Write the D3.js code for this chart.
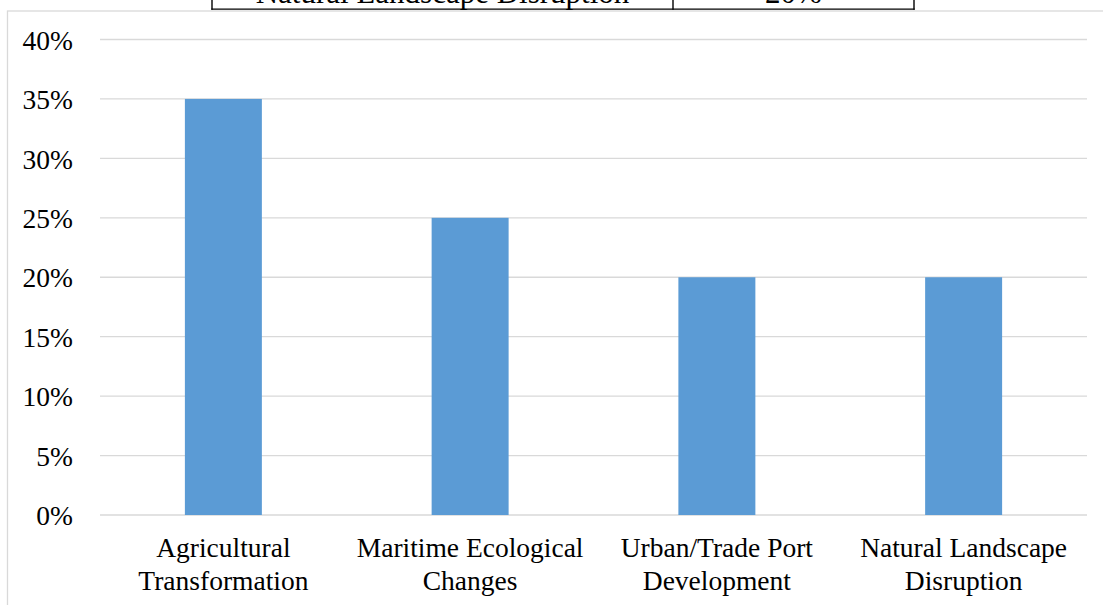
<!DOCTYPE html>
<html>
<head>
<meta charset="utf-8">
<script src="https://cdn.jsdelivr.net/npm/d3@7"></script>
<style>
  html, body { margin: 0; padding: 0; background: #ffffff; overflow: hidden; }
  svg { display: block; }
  text { font-family: "Liberation Serif", "Times New Roman", serif; fill: #000; }
</style>
</head>
<body>
<svg id="chart" width="1103" height="605"></svg>
<script>
// Chart data
const categories = [
  ["Agricultural", "Transformation"],
  ["Maritime Ecological", "Changes"],
  ["Urban/Trade Port", "Development"],
  ["Natural Landscape", "Disruption"]
];
const values = [0.35, 0.25, 0.20, 0.20];
const yTicks = [0, 0.05, 0.10, 0.15, 0.20, 0.25, 0.30, 0.35, 0.40];

// Last row of the table sitting just above the chart
const tableRow = ["Natural Landscape Disruption", "20%"];

const svg = d3.select("#chart");
const W = 1103, H = 605;

// Table row fragment (cut by the top edge)
const tableX = d3.scaleOrdinal().domain([0, 1, 2]).range([212, 673, 914]);
const tableG = svg.append("g");
tableG.selectAll("text.cell")
  .data(tableRow)
  .join("text")
  .attr("class", "cell")
  .attr("x", (d, i) => (tableX(i) + tableX(i + 1)) / 2)
  .attr("y", 3)
  .attr("text-anchor", "middle")
  .style("font-size", "31px")
  .text(d => d);
tableG.selectAll("line.v")
  .data([0, 1, 2])
  .join("line")
  .attr("class", "v")
  .attr("x1", d => tableX(d)).attr("x2", d => tableX(d))
  .attr("y1", -2).attr("y2", 9.8)
  .attr("stroke", "#000").attr("stroke-width", 1.4);
tableG.append("line")
  .attr("x1", tableX(0) - 0.7).attr("x2", tableX(2) + 0.7)
  .attr("y1", 9.1).attr("y2", 9.1)
  .attr("stroke", "#000").attr("stroke-width", 1.4);

// Chart area border
svg.append("rect")
  .attr("x", 7.5).attr("y", 11)
  .attr("width", W + 20).attr("height", H + 20)
  .attr("fill", "none")
  .attr("stroke", "#d9d9d9")
  .attr("stroke-width", 1.3);

// Scales
const x = d3.scaleBand()
  .domain(d3.range(categories.length))
  .range([100, 1087])
  .paddingInner(0.688)
  .paddingOuter(0.344);

const y = d3.scaleLinear()
  .domain([0, 0.40])
  .range([515, 39.5]);

// Gridlines
svg.append("g")
  .selectAll("line")
  .data(yTicks)
  .join("line")
  .attr("x1", 100).attr("x2", 1087)
  .attr("y1", d => y(d)).attr("y2", d => y(d))
  .attr("stroke", "#d9d9d9")
  .attr("stroke-width", 1.3);

// Bars
svg.append("g")
  .selectAll("rect")
  .data(values)
  .join("rect")
  .attr("x", (d, i) => x(i))
  .attr("y", d => y(d))
  .attr("width", x.bandwidth())
  .attr("height", d => y(0) - y(d))
  .attr("fill", "#5b9bd5");

// Y axis labels
const yAxis = d3.axisLeft(y)
  .tickValues(yTicks)
  .tickFormat(d3.format(".0%"))
  .tickSize(0)
  .tickPadding(0);
const yg = svg.append("g")
  .attr("transform", "translate(73,0)")
  .call(yAxis);
yg.select(".domain").remove();
yg.selectAll("text")
  .style("font-family", "'Liberation Serif', 'Times New Roman', serif")
  .style("font-size", "27.5px")
  .attr("fill", "#000")
  .attr("dy", "0.35em");

// X axis category labels (two lines each)
const xg = svg.append("g");
xg.selectAll("text")
  .data(categories)
  .join("text")
  .attr("x", (d, i) => x(i) + x.bandwidth() / 2)
  .attr("y", 557)
  .attr("text-anchor", "middle")
  .style("font-size", "27.5px")
  .each(function(d) {
    const t = d3.select(this);
    d.forEach((line, j) => {
      t.append("tspan")
        .attr("x", t.attr("x"))
        .attr("dy", j === 0 ? 0 : 33)
        .text(line);
    });
  });
</script>
</body>
</html>
